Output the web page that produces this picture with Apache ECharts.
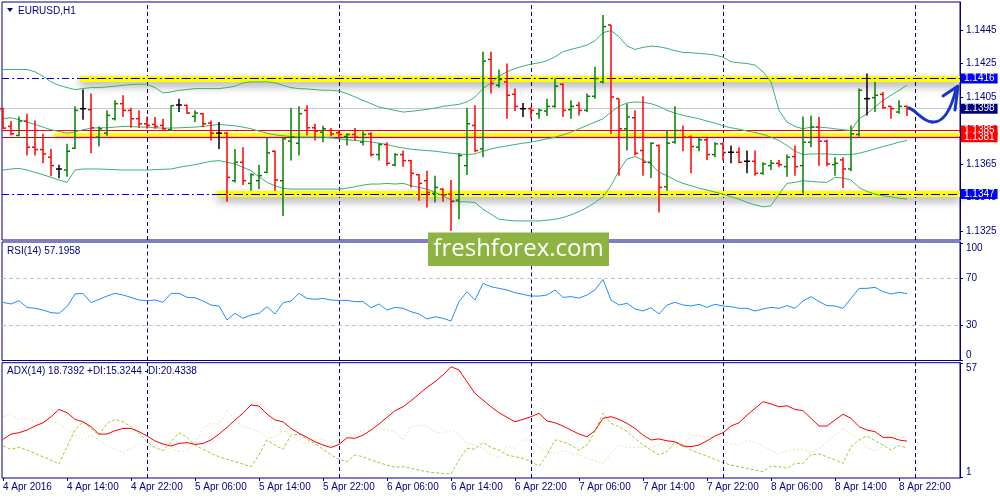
<!DOCTYPE html>
<html><head><meta charset="utf-8">
<script src="https://cdn.jsdelivr.net/npm/echarts@6/dist/echarts.min.js"></script>
<style>html,body{margin:0;padding:0;background:#fff}#c{width:1000px;height:500px}</style>
</head><body><div id="c"></div>
<script>
// ---------- DATA ----------
const timeLabels = ['4 Apr 2016','4 Apr 14:00','4 Apr 22:00','5 Apr 06:00','5 Apr 14:00','5 Apr 22:00','6 Apr 06:00','6 Apr 14:00','6 Apr 22:00','7 Apr 06:00','7 Apr 14:00','7 Apr 22:00','8 Apr 06:00','8 Apr 14:00','8 Apr 22:00'];
const labelBars = [0,8,16,24,32,40,48,56,64,72,80,88,96,104,112];
const daySeparators = [18,42,66,90,114];

const opens = [1.13980,1.13874,1.13820,1.13906,1.13750,1.13736,1.13690,1.13620,1.13614,1.13744,
1.13980,1.13974,1.13810,1.13834,1.13920,1.14010,1.13970,1.13920,1.13890,1.13886,
1.13880,1.13854,1.14002,1.14000,1.13934,1.13950,1.13894,1.13834,1.13834,1.13550,
1.13660,1.13534,1.13550,1.13600,1.13726,1.13550,1.13786,1.13774,1.13970,1.13866,
1.13840,1.13850,1.13836,1.13814,1.13826,1.13780,1.13830,1.13706,1.13766,1.13644,
1.13706,1.13670,1.13586,1.13550,1.13474,1.13500,1.13470,1.13434,1.13640,1.13880,
1.13740,1.14274,1.14120,1.14140,1.14066,1.13980,1.13980,1.13950,1.13966,1.13994,
1.14126,1.13974,1.14000,1.13970,1.14054,1.14140,1.14480,1.14040,1.13860,1.13926,
1.13730,1.13660,1.13760,1.13514,1.13780,1.13850,1.13810,1.13750,1.13794,1.13706,
1.13770,1.13720,1.13720,1.13666,1.13666,1.13594,1.13640,1.13654,1.13634,1.13694,
1.13640,1.13780,1.13870,1.13786,1.13646,1.13674,1.13620,1.13826,1.14040,1.14046,
1.14066,1.13994,1.13960,1.13994];
const highs = [1.13986,1.13906,1.13934,1.13950,1.13910,1.13830,1.13740,1.13646,1.13770,1.13994,
1.14094,1.14070,1.13874,1.13970,1.14030,1.14060,1.13986,1.13970,1.13934,1.13930,
1.13920,1.14000,1.14040,1.14004,1.13970,1.13954,1.13910,1.13900,1.13840,1.13740,
1.13750,1.13594,1.13646,1.13806,1.13730,1.13806,1.13984,1.13994,1.14000,1.13890,
1.13878,1.13864,1.13850,1.13834,1.13864,1.13846,1.13840,1.13774,1.13780,1.13714,
1.13730,1.13674,1.13590,1.13610,1.13580,1.13504,1.13554,1.13714,1.13984,1.14000,
1.14320,1.14320,1.14214,1.14250,1.14100,1.14014,1.13990,1.13980,1.14040,1.14160,
1.14130,1.14030,1.14020,1.14070,1.14230,1.14540,1.14480,1.14040,1.14010,1.13970,
1.14054,1.13780,1.13766,1.13850,1.13994,1.13880,1.13820,1.13806,1.13806,1.13780,
1.13780,1.13760,1.13750,1.13730,1.13730,1.13660,1.13674,1.13674,1.13706,1.13760,
1.13934,1.13940,1.13930,1.13794,1.13690,1.13690,1.13880,1.14100,1.14190,1.14140,
1.14080,1.13994,1.14030,1.13998];
const lows = [1.13860,1.13820,1.13816,1.13700,1.13700,1.13654,1.13576,1.13564,1.13574,1.13740,
1.13914,1.13714,1.13754,1.13818,1.13910,1.13930,1.13866,1.13866,1.13860,1.13860,
1.13854,1.13850,1.13960,1.13950,1.13900,1.13870,1.13790,1.13740,1.13424,1.13540,
1.13524,1.13490,1.13500,1.13594,1.13490,1.13340,1.13670,1.13700,1.13820,1.13790,
1.13780,1.13816,1.13800,1.13760,1.13790,1.13760,1.13694,1.13670,1.13640,1.13636,
1.13634,1.13510,1.13430,1.13390,1.13420,1.13424,1.13250,1.13320,1.13584,1.13720,
1.13690,1.14070,1.14106,1.13920,1.13966,1.13930,1.13920,1.13920,1.13936,1.13986,
1.13930,1.13920,1.13940,1.13960,1.14040,1.14130,1.13830,1.13580,1.13730,1.13700,
1.13580,1.13566,1.13360,1.13490,1.13770,1.13726,1.13594,1.13726,1.13674,1.13690,
1.13670,1.13654,1.13654,1.13594,1.13580,1.13586,1.13614,1.13630,1.13574,1.13580,
1.13474,1.13750,1.13640,1.13636,1.13580,1.13506,1.13606,1.13814,1.13940,1.13960,
1.13980,1.13920,1.13950,1.13936];
const closes = [1.13864,1.13830,1.13906,1.13750,1.13736,1.13710,1.13640,1.13620,1.13726,1.13970,
1.13980,1.13866,1.13860,1.13940,1.14010,1.13970,1.13920,1.13890,1.13880,1.13874,
1.13860,1.13998,1.14002,1.13954,1.13954,1.13890,1.13834,1.13834,1.13570,1.13660,
1.13550,1.13586,1.13580,1.13716,1.13554,1.13800,1.13810,1.13950,1.13866,1.13846,
1.13860,1.13830,1.13826,1.13826,1.13810,1.13826,1.13706,1.13766,1.13654,1.13706,
1.13670,1.13594,1.13534,1.13480,1.13510,1.13466,1.13426,1.13700,1.13890,1.13730,
1.14264,1.14130,1.14154,1.14060,1.13994,1.13980,1.13970,1.13970,1.13994,1.14114,
1.13970,1.13994,1.13970,1.14054,1.14160,1.14470,1.14050,1.13860,1.13930,1.13714,
1.13660,1.13774,1.13510,1.13774,1.13850,1.13810,1.13754,1.13794,1.13706,1.13770,
1.13718,1.13720,1.13660,1.13666,1.13594,1.13650,1.13654,1.13646,1.13690,1.13634,
1.13780,1.13870,1.13786,1.13650,1.13654,1.13620,1.13830,1.14090,1.14040,1.14060,
1.13986,1.13980,1.13994,1.13980];

const bbUpper = [1.14214,1.14214,1.14214,1.14214,1.14200,1.14174,1.14140,1.14120,1.14106,1.14094,
1.14100,1.14106,1.14106,1.14110,1.14114,1.14120,1.14124,1.14126,1.14126,1.14106,
1.14074,1.14080,1.14090,1.14094,1.14100,1.14100,1.14100,1.14100,1.14106,1.14114,
1.14134,1.14140,1.14140,1.14140,1.14134,1.14120,1.14106,1.14100,1.14098,1.14094,
1.14090,1.14090,1.14086,1.14070,1.14050,1.14030,1.14010,1.13990,1.13980,1.13970,
1.13960,1.13964,1.13970,1.13976,1.13984,1.13994,1.14000,1.14006,1.14020,1.14050,
1.14100,1.14134,1.14174,1.14200,1.14220,1.14234,1.14246,1.14254,1.14266,1.14290,
1.14320,1.14334,1.14346,1.14360,1.14386,1.14434,1.14446,1.14410,1.14354,1.14334,
1.14346,1.14354,1.14350,1.14340,1.14326,1.14316,1.14314,1.14310,1.14306,1.14300,
1.14288,1.14260,1.14254,1.14250,1.14240,1.14200,1.14140,1.13970,1.13900,1.13874,
1.13860,1.13870,1.13870,1.13866,1.13860,1.13854,1.13850,1.13920,1.13950,1.13990,
1.14030,1.14060,1.14090,1.14120];
const bbMiddle = [1.13920,1.13926,1.13914,1.13900,1.13886,1.13870,1.13854,1.13844,1.13834,1.13842,
1.13854,1.13864,1.13866,1.13866,1.13870,1.13874,1.13874,1.13870,1.13870,1.13866,
1.13864,1.13864,1.13866,1.13868,1.13870,1.13874,1.13880,1.13886,1.13882,1.13878,
1.13870,1.13860,1.13846,1.13834,1.13824,1.13818,1.13814,1.13810,1.13810,1.13810,
1.13810,1.13806,1.13800,1.13794,1.13790,1.13786,1.13782,1.13774,1.13766,1.13754,
1.13746,1.13738,1.13734,1.13730,1.13726,1.13720,1.13714,1.13710,1.13706,1.13710,
1.13726,1.13740,1.13750,1.13758,1.13766,1.13774,1.13780,1.13790,1.13800,1.13810,
1.13824,1.13840,1.13860,1.13880,1.13900,1.13920,1.13960,1.13994,1.14014,1.14020,
1.14018,1.14010,1.13994,1.13970,1.13954,1.13940,1.13930,1.13920,1.13906,1.13894,
1.13878,1.13866,1.13858,1.13846,1.13838,1.13826,1.13810,1.13790,1.13760,1.13726,
1.13706,1.13710,1.13710,1.13710,1.13706,1.13706,1.13706,1.13714,1.13726,1.13740,
1.13754,1.13766,1.13780,1.13790];
const bbLower = [1.13614,1.13620,1.13624,1.13614,1.13600,1.13586,1.13570,1.13554,1.13540,1.13614,
1.13620,1.13620,1.13620,1.13618,1.13616,1.13614,1.13614,1.13614,1.13614,1.13616,
1.13618,1.13620,1.13630,1.13638,1.13646,1.13656,1.13666,1.13670,1.13660,1.13650,
1.13630,1.13610,1.13574,1.13540,1.13520,1.13504,1.13500,1.13500,1.13500,1.13500,
1.13500,1.13500,1.13500,1.13506,1.13514,1.13524,1.13530,1.13530,1.13534,1.13530,
1.13534,1.13520,1.13510,1.13500,1.13480,1.13460,1.13434,1.13424,1.13424,1.13420,
1.13380,1.13350,1.13320,1.13314,1.13310,1.13310,1.13310,1.13310,1.13314,1.13320,
1.13330,1.13346,1.13366,1.13390,1.13420,1.13454,1.13520,1.13610,1.13680,1.13694,
1.13674,1.13650,1.13600,1.13580,1.13554,1.13534,1.13520,1.13506,1.13494,1.13482,
1.13470,1.13454,1.13440,1.13420,1.13406,1.13394,1.13400,1.13470,1.13534,1.13540,
1.13550,1.13546,1.13542,1.13540,1.13570,1.13566,1.13554,1.13510,1.13486,1.13470,
1.13460,1.13454,1.13446,1.13440];

const rsi = [49.7,48.3,51.1,45.4,44.6,43.1,40.9,40.3,46.0,56.9,
57.4,49.4,52.3,55.1,57.4,56.0,54.0,51.7,51.1,51.7,
49.7,57.4,57.4,54.0,53.7,50.9,47.4,46.6,34.6,40.3,
36.0,38.9,40.3,46.0,39.7,49.4,50.9,57.4,53.1,52.3,
53.1,51.7,51.4,51.4,50.3,50.3,45.1,48.3,43.1,45.4,
44.6,41.7,39.7,35.4,37.4,36.0,33.7,50.3,58.9,51.7,
66.0,63.1,61.7,60.3,58.0,56.6,55.1,55.1,56.0,60.3,
54.0,54.6,53.4,56.0,60.3,69.4,51.7,47.4,48.9,44.0,
42.3,45.1,39.7,47.4,49.7,47.4,46.6,48.0,45.4,48.0,
46.6,46.0,44.6,44.6,42.3,44.0,45.4,44.6,46.9,44.6,
50.9,54.6,50.3,46.9,46.6,44.6,53.1,61.7,61.7,62.6,
58.9,56.9,58.3,57.2];
const adx = [19.6,22.2,22.9,24.2,26.2,27.8,30.8,34.4,32.8,29.5,
28.3,25.9,22.2,22.2,23.9,25.0,25.0,23.4,21.3,18.8,
17.3,16.3,17.6,18.0,17.1,17.6,19.3,22.2,25.5,29.2,
32.5,36.6,36.1,32.1,29.2,28.3,25.0,22.6,20.6,18.4,
16.8,15.6,17.1,20.4,20.1,21.7,24.2,27.2,30.5,33.8,
35.7,38.7,42.0,45.3,48.1,51.4,55.5,53.9,48.1,42.3,
39.0,35.7,32.8,30.5,28.3,29.5,30.8,32.5,28.7,27.8,
26.2,24.2,22.2,20.9,23.9,30.0,30.8,29.5,27.5,25.0,
21.7,19.3,19.8,18.9,18.4,16.3,16.0,16.8,18.9,21.3,
22.9,26.2,27.8,31.6,34.9,38.2,37.1,35.7,36.2,34.4,
33.8,30.0,26.2,26.2,29.2,32.0,30.0,25.9,24.2,23.4,
20.6,20.6,19.3,18.7];
const plusDI = [16.3,14.7,15.6,14.3,12.7,11.0,9.4,7.4,16.0,24.2,
28.3,25.0,21.7,27.5,29.5,28.3,25.9,22.6,18.4,15.6,
14.0,18.4,22.9,20.6,16.8,14.7,12.7,11.0,9.7,8.6,
7.4,6.1,11.9,19.3,16.8,14.7,21.7,22.2,19.6,17.6,
14.7,11.9,9.7,8.6,11.9,11.0,9.4,8.1,6.9,5.8,
6.1,5.3,4.4,3.6,3.1,2.8,2.5,9.4,15.2,14.7,
18.0,15.6,14.3,11.9,11.0,10.2,8.6,6.4,11.9,19.3,
18.4,16.8,14.3,16.8,23.4,32.5,27.5,25.9,23.4,20.1,
16.8,14.3,11.9,13.5,18.4,16.8,14.3,12.7,11.4,9.7,
8.1,6.9,6.1,5.3,4.4,3.6,6.4,6.1,5.3,7.7,
7.7,11.9,12.4,11.0,9.4,7.7,16.0,19.3,21.3,18.9,
16.8,14.3,16.5,15.3];
const minusDI = [30.8,32.1,29.2,30.0,28.3,28.3,29.5,27.2,25.0,21.7,
19.3,21.7,19.3,16.3,14.7,13.0,15.2,17.6,16.3,15.6,
14.3,15.6,13.5,14.0,17.6,25.0,27.5,27.2,34.1,29.2,
25.9,25.0,23.4,20.1,20.9,24.2,21.7,18.4,17.6,19.3,
19.6,16.8,20.1,22.6,21.7,24.5,24.2,25.0,24.2,23.4,
19.3,25.9,26.7,26.2,23.4,22.6,24.2,21.7,17.6,16.8,
15.2,11.9,10.2,16.3,15.2,19.3,19.3,15.6,13.5,12.7,
14.0,12.7,11.9,10.2,9.1,7.4,12.7,16.8,15.6,15.6,
15.6,15.6,16.8,19.3,15.2,16.8,21.3,21.3,20.9,20.6,
18.4,17.6,16.8,18.9,18.4,16.3,14.3,12.4,14.0,14.7,
14.7,13.0,15.0,18.4,21.7,25.0,22.2,20.1,15.6,14.0,
16.3,22.9,20.9,20.4];

const priceTicks = [1.1325,1.1345,1.1365,1.1385,1.1405,1.1425,1.1445];
const rsiTicks = [0,30,70,100];
const rsiLevels = [70,30];
const adxTicks = [1,57];

const resistance = 1.1416, support = 1.1347, redUpper = 1.1385, redLower = 1.1381, bidPrice = 1.1398, zoneMid = 1.13829;
const resistanceStart = 9.6, zoneMidStart = 6.4, supportStart = 26.75;

// ---------- CHART ----------
const navy = '#000080';
const FONT = '"Liberation Sans", Arial, sans-serif';
const XMIN = -0.125, XMAX = 119.625;
const chart = echarts.init(document.getElementById('c'));

const gridBase = {left:2, right:40, show:true, borderColor:navy, borderWidth:1, containLabel:false};
const grids = [
  Object.assign({top:2, height:238}, gridBase),
  Object.assign({top:242, height:118.5}, gridBase),
  Object.assign({top:362.7, height:115.3}, gridBase)
];
const xAxes = [0,1,2].map(g => ({
  type:'value', gridIndex:g, min:XMIN, max:XMAX,
  axisLine:{show:false}, splitLine:{show:false},
  axisTick: g===2 ? {show:true, customValues:labelBars, length:3, lineStyle:{color:navy}} : {show:false},
  axisLabel: g===2 ? {show:true, customValues:labelBars, formatter:v=>timeLabels[labelBars.indexOf(Math.round(v))],
     align:'left', margin:4, color:navy, fontSize:10, fontFamily:FONT} : {show:false}
}));
function yAx(g, min, max, ticks, fmt, extraLabel){
  return {type:'value', gridIndex:g, position:'right', min:min, max:max,
    axisLine:{show:true, onZero:false, lineStyle:{color:navy, width:1}},
    axisTick:{show:true, customValues:ticks, length:3, lineStyle:{color:navy}},
    axisLabel:Object.assign({show:true, customValues:ticks, formatter:fmt, margin:6, color:navy, fontSize:10, fontFamily:FONT}, extraLabel||{}),
    splitLine:{show:false}};
}
const yAxes = [
  yAx(0, 1.13196, 1.14617, priceTicks, v=>v.toFixed(4)),
  yAx(1, -0.2, 101.5, rsiTicks, v=>String(Math.round(v)), {verticalAlignMinLabel:'bottom', verticalAlignMaxLabel:'top'}),
  yAx(2, 0.5, 57.5, adxTicks, v=>String(Math.round(v)), {verticalAlignMinLabel:'bottom', verticalAlignMaxLabel:'top'})
];

const idx = a => a.map((v,i)=>[i,v]);
function sepSeries(g){
  return {type:'line', xAxisIndex:g, yAxisIndex:g, data:[], silent:true, z:1,
    markLine:{silent:true, symbol:['none','none'], label:{show:false}, animation:false,
      lineStyle:{color:navy, type:[4,3], width:1}, data: daySeparators.map(x=>({xAxis:x}))}};
}
function lineS(g, data, color, width, type, z){
  return {type:'line', xAxisIndex:g, yAxisIndex:g, data:idx(data), showSymbol:false, symbol:'none', silent:true, z:z,
    lineStyle:{color:color, width:width, type:type||'solid'}};
}
function mlSeries(z, ml){
  return {type:'line', xAxisIndex:0, yAxisIndex:0, data:[], silent:true, z:z,
    markLine:Object.assign({silent:true, precision:6, symbol:['none','none'], label:{show:false}}, ml)};
}
const yellowShadow = {shadowColor:'rgba(0,0,0,0.4)', shadowBlur:8, shadowOffsetY:4};
const series = [
  sepSeries(0), sepSeries(1), sepSeries(2),
  mlSeries(2, {data:[
     {yAxis:bidPrice, lineStyle:{color:'#c8c8c8', width:1, type:'solid'}},
     {yAxis:resistance, lineStyle:{color:'#0000ff', width:1, type:[7,3,2,3]}},
     {yAxis:support, lineStyle:{color:'#0000ff', width:1, type:[7,3,2,3]}}
  ]}),
  mlSeries(3, {data:[
     [{coord:[resistanceStart,resistance], lineStyle:Object.assign({color:'#ffff00', width:6, type:'solid'}, yellowShadow)},{coord:[XMAX,resistance]}],
     [{coord:[supportStart,support], lineStyle:Object.assign({color:'#ffff00', width:6, type:'solid'}, yellowShadow)},{coord:[XMAX,support]}],
     [{coord:[zoneMidStart,zoneMid], lineStyle:{color:'#ffff00', width:3, type:'solid', shadowColor:'rgba(0,0,0,0.3)', shadowBlur:3, shadowOffsetY:2}},{coord:[XMAX,zoneMid]}]
  ]}),
  mlSeries(4, {data:[
     [{coord:[resistanceStart,resistance], lineStyle:{color:'#000000', width:1.2, type:[9,3,2,3]}},{coord:[XMAX,resistance]}],
     [{coord:[supportStart,support], lineStyle:{color:'#000000', width:1.2, type:[9,3,2,3]}},{coord:[XMAX,support]}]
  ]}),
  mlSeries(4, {data:[
     {yAxis:redUpper, lineStyle:{color:'#ff0000', width:1, type:'solid'}},
     {yAxis:redLower, lineStyle:{color:'#e00000', width:1, type:'solid'}}
  ]}),
  lineS(0, bbUpper, '#3cb371', 1, 'solid', 5),
  lineS(0, bbMiddle, '#3cb371', 1, 'solid', 5),
  lineS(0, bbLower, '#3cb371', 1, 'solid', 5),
  {type:'custom', xAxisIndex:0, yAxisIndex:0, z:6, silent:true,
   data: closes.map((c,i)=>[i, opens[i], highs[i], lows[i], c]),
   encode:{x:0, y:[1,2,3,4]},
   renderItem:function(params, api){
     const i = api.value(0), o = api.value(1), h = api.value(2), l = api.value(3), c = api.value(4);
     const col = c > o ? '#008000' : (c < o ? '#ff0000' : '#000000');
     const po = api.coord([i,o]), ph = api.coord([i,h]), pl = api.coord([i,l]), pc = api.coord([i,c]);
     const px = po[0];
     return {type:'group', children:[
       {type:'rect', shape:{x:px-0.75, y:ph[1], width:1.5, height:Math.max(1,pl[1]-ph[1])}, style:{fill:col}},
       {type:'rect', shape:{x:px-3, y:po[1]-0.75, width:3, height:1.5}, style:{fill:col}},
       {type:'rect', shape:{x:px, y:pc[1]-0.75, width:3, height:1.5}, style:{fill:col}}
     ]};
   }},
  mlSeries(20, {lineStyle:{color:'rgba(0,0,0,0)', width:1},
     label:{show:true, position:'end', distance:1, color:'#ffffff', fontSize:10, fontFamily:FONT, lineHeight:10, padding:[0,3,0,3]},
     data:[
       {yAxis:resistance, label:{formatter:resistance.toFixed(4), backgroundColor:'#0000ff'}},
       {yAxis:bidPrice, label:{formatter:bidPrice.toFixed(4), backgroundColor:'#000080'}},
       {yAxis:redUpper, label:{formatter:redUpper.toFixed(4), backgroundColor:'#ff0000'}},
       {yAxis:redLower, label:{formatter:redLower.toFixed(4), backgroundColor:'#ff0000'}},
       {yAxis:support, label:{formatter:support.toFixed(4), backgroundColor:'#0000ff'}}
     ]}),
  {type:'line', xAxisIndex:1, yAxisIndex:1, data:[], silent:true, z:2,
   markLine:{silent:true, symbol:['none','none'], label:{show:false},
     lineStyle:{color:'#c0c0c0', width:1, type:[4,3]}, data: rsiLevels.map(v=>({yAxis:v}))}},
  lineS(1, rsi, '#1e90ff', 1, 'solid', 5),
  lineS(2, plusDI, '#9acd32', 1, [3,2], 4),
  lineS(2, minusDI, '#f5deb3', 1, [2,2], 4),
  lineS(2, adx, '#ff0000', 1, 'solid', 5)
];

const txt = (x,y,t) => ({type:'text', x:x, y:y, z:100, silent:true,
  style:{text:t, fill:navy, font:'10px "Liberation Sans"', verticalAlign:'middle', align:'left'}});
const arrowStyle = {stroke:'#1736c9', lineWidth:3, fill:null, lineCap:'round', lineJoin:'round'};
const graphic = [
  {type:'polygon', z:100, silent:true, shape:{points:[[7,8],[13,8],[10,12]]}, style:{fill:navy}},
  txt(18, 11, 'EURUSD,H1'),
  txt(7, 251.5, 'RSI(14) 57.1958'),
  txt(7, 371.5, 'ADX(14) 18.7392 +DI:15.3244 -DI:20.4338'),
  {type:'rect', z:200, silent:true, shape:{x:428, y:232.5, width:181, height:33.5}, style:{fill:'#8db443'}},
  {type:'text', z:201, silent:true, x:518.5, y:249, style:{text:'freshforex.com', fill:'#ffffff', font:'24px "Open Sans"', align:'center', verticalAlign:'middle'}},
  {type:'bezierCurve', z:150, silent:true, shape:{x1:909, y1:108, cpx1:917, cpy1:111, cpx2:922, cpy2:121, x2:932, y2:122}, style:arrowStyle},
  {type:'bezierCurve', z:150, silent:true, shape:{x1:932, y1:122, cpx1:943, cpy1:123, cpx2:951, cpy2:110, x2:956, y2:89}, style:arrowStyle},
  {type:'polyline', z:150, silent:true, shape:{points:[[943,96],[958,86],[955,110]]}, style:arrowStyle}
];

chart.setOption({
  animation:false, backgroundColor:'#ffffff',
  grid:grids, xAxis:xAxes, yAxis:yAxes, series:series, graphic:graphic
});
</script>
</body></html>
